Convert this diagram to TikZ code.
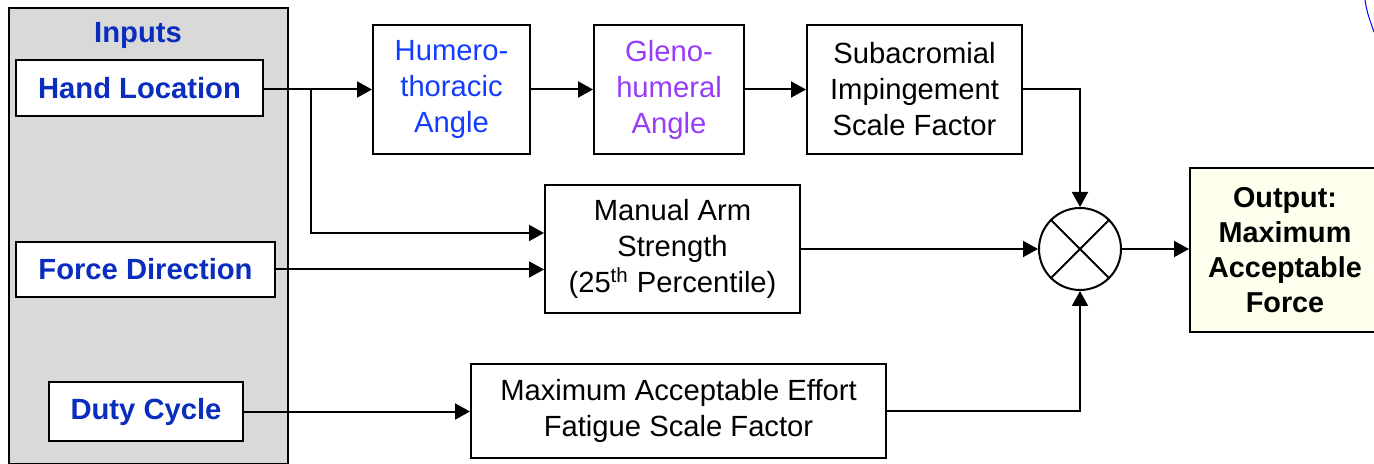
\documentclass[tikz,border=0pt]{standalone}
\usepackage{fontspec}
\setmainfont{Liberation Sans}
\usetikzlibrary{arrows.meta,calc}
\definecolor{inblue}{RGB}{10,45,190}
\definecolor{hblue}{RGB}{20,60,255}
\definecolor{gpurple}{RGB}{150,60,250}
\definecolor{panelgray}{RGB}{217,217,217}
\definecolor{outyellow}{RGB}{255,255,238}
\tikzset{
  blk/.style={draw=black, line width=1pt, fill=white, align=center, inner sep=0pt,
    font=\fontsize{14.6pt}{18pt}\selectfont},
  inbox/.style={blk, text=inblue, font=\fontsize{14.6pt}{18pt}\selectfont\bfseries},
  conn/.style={line width=1pt, -{Triangle[length=7.5pt,width=8pt]}},
  plain/.style={line width=1pt},
}
\begin{document}
\begin{tikzpicture}[x=0.5pt,y=-0.5pt]
\useasboundingbox (0,0) rectangle (1374,464);
% inputs panel
\node[draw=black, line width=1pt, fill=panelgray, minimum width=139.5pt, minimum height=228pt, inner sep=0pt, anchor=north west] (panel) at (8,7) {};
\node[text=inblue, font=\fontsize{14.6pt}{17pt}\selectfont\bfseries] (intitle) at (138,35) {Inputs};
\node[inbox, minimum width=123.5pt, minimum height=28pt] (hand) at (139.5,88.5) {Hand Location};
\node[inbox, minimum width=129.5pt, minimum height=27.5pt] (force) at (145.5,269.5) {Force Direction};
\node[inbox, minimum width=97pt, minimum height=29.5pt] (duty) at (146,411.5) {Duty Cycle};
% processing blocks
\node[blk, text=hblue, minimum width=78.5pt, minimum height=64.5pt] (humero) at (451.5,89.5) {Humero-\\thoracic\\Angle};
\node[blk, text=gpurple, minimum width=75pt, minimum height=64.5pt] (gleno) at (669,89.5) {Gleno-\\humeral\\Angle};
\node[blk, minimum width=107.5pt, minimum height=64.5pt] (sub) at (914.5,89.5) {Subacromial\\Impingement\\Scale Factor};
\node[blk, minimum width=127.5pt, minimum height=64pt] (manual) at (672.5,249) {Manual Arm\\Strength\\(25\textsuperscript{th} Percentile)};
\node[blk, minimum width=207.5pt, minimum height=47pt] (effort) at (678.5,411) {Maximum Acceptable Effort\\Fatigue Scale Factor};
% multiplier
\node[draw=black, line width=1pt, fill=white, circle, minimum size=41pt, inner sep=0pt] (mult) at (1080,249) {};
\draw[plain] (mult.north west) -- (mult.south east);
\draw[plain] (mult.north east) -- (mult.south west);
% output
\node[blk, fill=outyellow, font=\fontsize{14.4pt}{17.5pt}\selectfont\bfseries, minimum width=95pt, minimum height=82pt, anchor=west] (out) at (1189,250) {Output:\\Maximum\\Acceptable\\Force};
% connectors
\coordinate (br) at (311,89);
\draw[conn] (hand.east |- humero.west) -- (humero.west);
\draw[conn] (br) |- ($(manual.west)+(0,-16)$);
\draw[conn] (force.east) -- (manual.west |- force.east);
\draw[conn] (humero.east) -- (gleno.west);
\draw[conn] (gleno.east) -- (sub.west);
\draw[conn] (sub.east) -| (mult.north);
\draw[conn] (manual.east) -- (mult.west);
\draw[conn] (mult.east) -- (out.west |- mult.east);
\draw[conn] (duty.east) -- (effort.west |- duty.east);
\draw[conn] (effort.east) -| (mult.south);
% stray blue arc at top right
\draw[blue, line width=0.5pt] (1365,0) .. controls (1367,12) .. (1374,32);
\end{tikzpicture}
\end{document}
